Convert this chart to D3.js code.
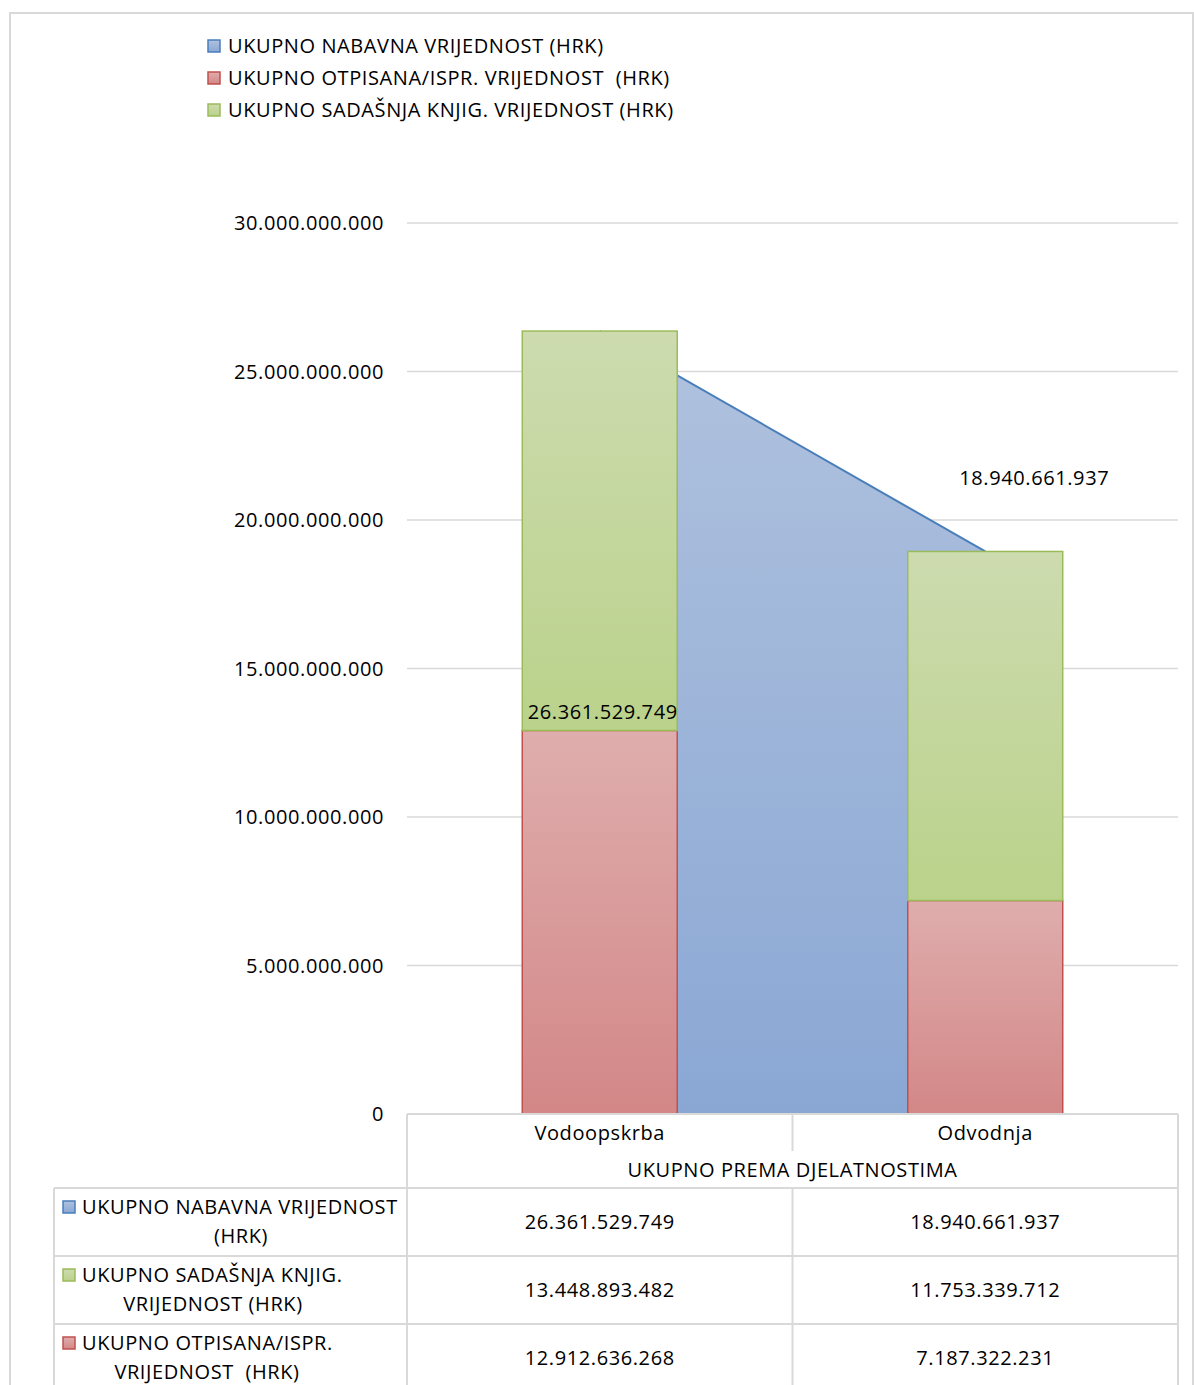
<!DOCTYPE html>
<html lang="hr">
<head>
    <meta charset="UTF-8">
    <title>ukupno prema djelatnostima</title>
    <script type="text/javascript" src="https://d3js.org/d3.v7.min.js"></script>
    <style>
        body { margin: 0; background: #fff; }
        text { font-family: "Open Sans", Lato, sans-serif; fill: #000; letter-spacing: 0.6px; }
    </style>
</head>
<body>
<svg class="chart"></svg>

<script type="text/javascript">

    const width = 1194;
    const height = 1385;

    // data
    const categories = ["Vodoopskrba", "Odvodnja"];
    const groupLabel = "UKUPNO PREMA DJELATNOSTIMA";
    const nabavna = [26361529749, 18940661937];
    const sadasnja = [13448893482, 11753339712];
    const otpisana = [12912636268, 7187322231];
    const yTicks = [0, 5e9, 10e9, 15e9, 20e9, 25e9, 30e9];

    const seriesNames = {
        nabavna: "UKUPNO NABAVNA VRIJEDNOST (HRK)",
        otpisana: "UKUPNO OTPISANA/ISPR. VRIJEDNOST  (HRK)",
        sadasnja: "UKUPNO SADAŠNJA KNJIG. VRIJEDNOST (HRK)"
    };

    const gridColor = "#d9d9d9";
    const fontSize = 20;

    let svg = d3.select(".chart")
        .attr("width", width)
        .attr("height", height);

    // gradients like excel
    let defs = svg.append("defs");
    function grad(id, top, bottom) {
        let g = defs.append("linearGradient").attr("id", id)
            .attr("x1", 0).attr("y1", 0).attr("x2", 0).attr("y2", 1);
        g.append("stop").attr("offset", "0%").attr("stop-color", top);
        g.append("stop").attr("offset", "100%").attr("stop-color", bottom);
    }
    grad("gBlue", "#b0c2de", "#8aa7d4");
    grad("gGreen", "#cddbaf", "#bad28b");
    grad("gRed", "#dfadad", "#d38787");

    // outer chart frame
    svg.append("rect")
        .attr("x", 10).attr("y", 13)
        .attr("width", 1183).attr("height", 1400)
        .attr("fill", "none")
        .attr("stroke", gridColor)
        .attr("stroke-width", 2);

    let scaleX = d3.scaleBand()
        .domain(categories)
        .range([407, 1178]);

    let scaleY = d3.scaleLinear()
        .domain([0, 30e9])
        .range([1114, 223]);

    const barW = scaleX.bandwidth() * 0.402;
    const cx = d => scaleX(d) + scaleX.bandwidth() / 2;
    const fmt = v => d3.format(",")(v).replace(/,/g, ".");

    // gridlines + y labels
    let g = svg.append("g");
    g.selectAll("line.grid").data(yTicks.filter(t => t > 0)).enter().append("line")
        .attr("class", "grid")
        .attr("x1", scaleX.range()[0]).attr("x2", scaleX.range()[1])
        .attr("y1", d => scaleY(d)).attr("y2", d => scaleY(d))
        .attr("stroke", gridColor).attr("stroke-width", 1.5);

    g.selectAll("text.ytick").data(yTicks).enter().append("text")
        .attr("class", "ytick")
        .attr("x", 384)
        .attr("y", d => scaleY(d))
        .attr("dy", "0.35em")
        .attr("text-anchor", "end")
        .style("font-size", fontSize + "px")
        .text(d => d === 0 ? "0" : fmt(d));

    // area for nabavna
    let area = d3.area()
        .x((d, i) => cx(categories[i]))
        .y0(scaleY(0))
        .y1(d => scaleY(d));
    let line = d3.line()
        .x((d, i) => cx(categories[i]))
        .y(d => scaleY(d));

    g.append("path").datum(nabavna)
        .attr("d", area)
        .attr("fill", "url(#gBlue)");
    g.append("path").datum(nabavna)
        .attr("d", line)
        .attr("fill", "none")
        .attr("stroke", "#4a7ebb")
        .attr("stroke-width", 2);

    // stacked bars
    let stackData = categories.map((c, i) => ({cat: c, otp: otpisana[i], sad: sadasnja[i]}));

    g.selectAll("rect.otp").data(stackData).enter().append("rect")
        .attr("class", "otp")
        .attr("x", d => cx(d.cat) - barW / 2)
        .attr("width", barW)
        .attr("y", d => scaleY(d.otp))
        .attr("height", d => scaleY(0) - scaleY(d.otp))
        .attr("fill", "url(#gRed)")
        .attr("stroke", "#c0504d").attr("stroke-width", 1.5);

    g.selectAll("rect.sad").data(stackData).enter().append("rect")
        .attr("class", "sad")
        .attr("x", d => cx(d.cat) - barW / 2)
        .attr("width", barW)
        .attr("y", d => scaleY(d.otp + d.sad))
        .attr("height", d => scaleY(d.otp) - scaleY(d.otp + d.sad))
        .attr("fill", "url(#gGreen)")
        .attr("stroke", "#9bbb59").attr("stroke-width", 1.5);

    // data labels of nabavna (excel placed them oddly)
    g.append("text")
        .attr("x", cx(categories[0]) + 3)
        .attr("y", scaleY(otpisana[0]) - 11)
        .attr("text-anchor", "middle")
        .style("font-size", fontSize + "px")
        .text(fmt(nabavna[0]));
    g.append("text")
        .attr("x", cx(categories[1]) + 49)
        .attr("y", scaleY(nabavna[1]) - 66)
        .attr("text-anchor", "middle")
        .style("font-size", fontSize + "px")
        .text(fmt(nabavna[1]));

    // legend
    let legendItems = [
        {name: seriesNames.nabavna, fill: "url(#gBlue)", stroke: "#4a7ebb"},
        {name: seriesNames.otpisana, fill: "url(#gRed)", stroke: "#c0504d"},
        {name: seriesNames.sadasnja, fill: "url(#gGreen)", stroke: "#9bbb59"}
    ];
    let legend = svg.append("g");
    let li = legend.selectAll("g").data(legendItems).enter().append("g")
        .attr("transform", (d, i) => "translate(208," + (46 + i * 32) + ")");
    li.append("rect")
        .attr("x", 0).attr("y", -6).attr("width", 12).attr("height", 12)
        .attr("fill", d => d.fill).attr("stroke", d => d.stroke).attr("stroke-width", 1.5);
    li.append("text")
        .attr("x", 20).attr("dy", "0.35em")
        .style("font-size", fontSize + "px")
        .style("white-space", "pre")
        .text(d => d.name);

    // data table
    const x0 = scaleX.range()[0], x1 = scaleX.range()[1];
    const xMid = scaleX(categories[1]);
    const tLeft = 54;
    const rowTop = [1188, 1256, 1324];
    const rowH = 68;
    let t = svg.append("g").attr("stroke", gridColor).attr("stroke-width", 2);
    t.append("line").attr("x1", x0).attr("x2", x1).attr("y1", scaleY(0)).attr("y2", scaleY(0));
    t.append("line").attr("x1", x0).attr("x2", x0).attr("y1", scaleY(0)).attr("y2", height);
    t.append("line").attr("x1", x1).attr("x2", x1).attr("y1", scaleY(0)).attr("y2", height);
    t.append("line").attr("x1", xMid).attr("x2", xMid).attr("y1", scaleY(0)).attr("y2", 1151);
    t.append("line").attr("x1", xMid).attr("x2", xMid).attr("y1", rowTop[0]).attr("y2", height);
    t.append("line").attr("x1", tLeft).attr("x2", tLeft).attr("y1", rowTop[0]).attr("y2", height);
    rowTop.forEach(y => {
        t.append("line").attr("x1", tLeft).attr("x2", x1).attr("y1", y).attr("y2", y);
    });

    svg.selectAll("text.cat").data(categories).enter().append("text")
        .attr("class", "cat")
        .attr("x", d => cx(d))
        .attr("y", 1133).attr("dy", "0.35em")
        .attr("text-anchor", "middle")
        .style("font-size", fontSize + "px")
        .text(d => d);
    svg.append("text")
        .attr("x", (x0 + x1) / 2).attr("y", 1170).attr("dy", "0.35em")
        .attr("text-anchor", "middle")
        .style("font-size", fontSize + "px")
        .text(groupLabel);

    let tableRows = [
        {l1: "UKUPNO NABAVNA VRIJEDNOST", l2: "(HRK)", l2x: 241, vals: nabavna, fill: "url(#gBlue)", stroke: "#4a7ebb"},
        {l1: "UKUPNO SADAŠNJA KNJIG.", l2: "VRIJEDNOST (HRK)", l2x: 213, vals: sadasnja, fill: "url(#gGreen)", stroke: "#9bbb59"},
        {l1: "UKUPNO OTPISANA/ISPR.", l2: "VRIJEDNOST  (HRK)", l2x: 207, vals: otpisana, fill: "url(#gRed)", stroke: "#c0504d"}
    ];
    tableRows.forEach((r, i) => {
        let top = rowTop[i];
        svg.append("rect")
            .attr("x", 63).attr("y", top + 13).attr("width", 12).attr("height", 12)
            .attr("fill", r.fill).attr("stroke", r.stroke).attr("stroke-width", 1.5);
        svg.append("text")
            .attr("x", 82).attr("y", top + 19).attr("dy", "0.35em")
            .style("font-size", fontSize + "px")
            .style("white-space", "pre")
            .text(r.l1);
        svg.append("text")
            .attr("x", r.l2x).attr("y", top + 48).attr("dy", "0.35em")
            .attr("text-anchor", "middle")
            .style("font-size", fontSize + "px")
            .style("white-space", "pre")
            .text(r.l2);
        svg.selectAll(null).data(r.vals).enter().append("text")
            .attr("x", (d, j) => cx(categories[j]))
            .attr("y", top + rowH / 2).attr("dy", "0.35em")
            .attr("text-anchor", "middle")
            .style("font-size", fontSize + "px")
            .text(d => fmt(d));
    });

</script>

</body>
</html>
